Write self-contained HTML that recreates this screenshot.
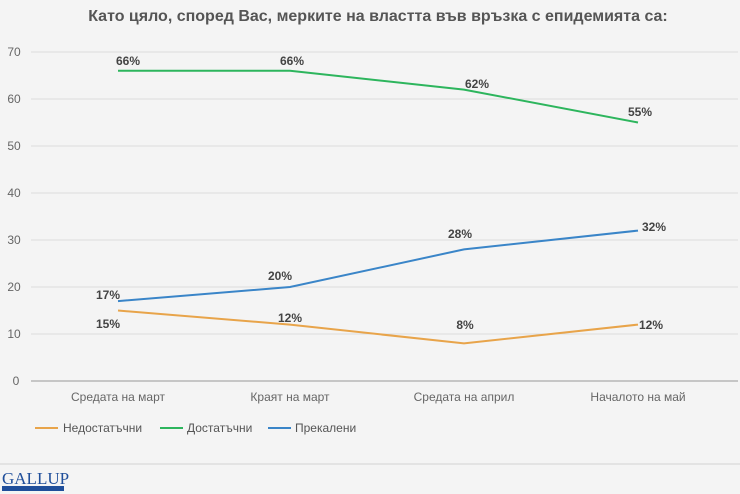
<!DOCTYPE html>
<html><head><meta charset="utf-8"><style>
body{margin:0;background:#f4f4f4;}
svg{display:block;font-family:"Liberation Sans",sans-serif;}
</style></head><body>
<svg width="740" height="494" viewBox="0 0 740 494">
<rect width="740" height="494" fill="#f4f4f4"/>
<text x="378" y="21" text-anchor="middle" font-size="16" font-weight="bold" fill="#555">Като цяло, според Вас, мерките на властта във връзка с епидемията са:</text>
<g stroke="#dcdcdc" stroke-width="1">
<line x1="31" x2="738" y1="52" y2="52"/><line x1="31" x2="738" y1="99" y2="99"/>
<line x1="31" x2="738" y1="146" y2="146"/><line x1="31" x2="738" y1="193" y2="193"/>
<line x1="31" x2="738" y1="240" y2="240"/><line x1="31" x2="738" y1="287" y2="287"/>
<line x1="31" x2="738" y1="334" y2="334"/>
</g>
<line x1="31" x2="738" y1="381" y2="381" stroke="#999" stroke-width="1"/>
<g font-size="12" fill="#666" text-anchor="middle">
<text x="14" y="56">70</text><text x="14" y="103">60</text><text x="14" y="150">50</text>
<text x="14" y="197">40</text><text x="14" y="244">30</text><text x="14" y="291">20</text>
<text x="14" y="338">10</text><text x="16" y="385">0</text>
<text x="118" y="401">Средата на март</text><text x="290" y="401">Краят на март</text>
<text x="464" y="401">Средата на април</text><text x="638" y="401">Началото на май</text>
</g>
<polyline points="118,310.5 290,324.6 464,343.4 638,324.6" fill="none" stroke="#e8a44a" stroke-width="2"/>
<polyline points="118,70.8 290,70.8 464,89.6 638,122.5" fill="none" stroke="#2db55d" stroke-width="2"/>
<polyline points="118,301.1 290,287 464,249.4 638,230.6" fill="none" stroke="#3a85c8" stroke-width="2"/>
<g font-size="12" font-weight="bold" fill="#444" text-anchor="middle">
<text x="128" y="65">66%</text><text x="292" y="65">66%</text><text x="477" y="88">62%</text><text x="640" y="116">55%</text>
<text x="108" y="299">17%</text><text x="280" y="280">20%</text><text x="460" y="238">28%</text><text x="654" y="231">32%</text>
<text x="108" y="328">15%</text><text x="290" y="322">12%</text><text x="465" y="329">8%</text><text x="651" y="329">12%</text>
</g>
<g font-size="12" fill="#555">
<line x1="35" x2="58" y1="428" y2="428" stroke="#e8a44a" stroke-width="2"/><text x="63" y="432">Недостатъчни</text>
<line x1="160" x2="183" y1="428" y2="428" stroke="#2db55d" stroke-width="2"/><text x="187" y="432">Достатъчни</text>
<line x1="268" x2="291" y1="428" y2="428" stroke="#3a85c8" stroke-width="2"/><text x="295" y="432">Прекалени</text>
</g>
<line x1="0" x2="740" y1="464" y2="464" stroke="#ddd" stroke-width="1.5"/>
<text x="2" y="484" font-family="Liberation Serif,serif" font-size="17" fill="#1f4e9a">GALLUP</text>
<rect x="2" y="486" width="62" height="5" fill="#1f4e9a"/>
</svg>
</body></html>
